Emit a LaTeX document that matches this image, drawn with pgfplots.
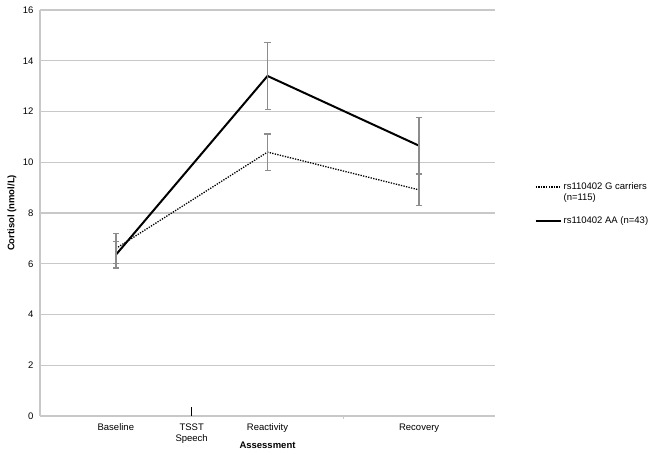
\documentclass[border=0pt]{standalone}
\usepackage{fontspec}
\setmainfont{Liberation Sans}
\usepackage{pgfplots}
\pgfplotsset{compat=1.18}

\definecolor{gridgray}{RGB}{200,200,200}
\definecolor{errgray}{RGB}{140,140,140}

\begin{document}
\begin{tikzpicture}[x=1pt,y=1pt]
\useasboundingbox (0,0) rectangle (654,455);
\begin{axis}[
  at={(40pt,39pt)}, anchor=south west,
  scale only axis,
  width=455pt, height=406pt,
  font=\fontsize{9.5}{11}\selectfont,
  /pgf/number format/assume math mode=true,
  xmin=-0.5, xmax=2.5,
  ymin=0, ymax=16,
  ytick={0,2,...,16},
  xtick={0,1,2},
  xticklabels={Baseline,Reactivity,Recovery},
  extra x ticks={0.5},
  extra x tick labels={TSST\\Speech},
  extra x tick style={tick align=inside, major tick length=9pt,
    tick style={black, line width=0.9pt}, grid=none},
  minor xtick={1.5},
  minor tick length=3pt,
  major tick length=0pt,
  xticklabel style={align=center, yshift=-4pt},
  yticklabel style={xshift=-3pt},
  ymajorgrids,
  grid style={gridgray, line width=1.3pt},
  axis x line*=bottom, axis y line*=left,
  axis line style={gridgray, line width=1.3pt, -},
  minor tick style={gridgray, line width=0.8pt},
  tick align=outside,
  xlabel={\bfseries Assessment},
  xlabel style={at={(axis description cs:0.5,0)}, anchor=center, yshift=-29pt},
  ylabel={\bfseries Cortisol (nmol/L)},
  ylabel style={at={(axis description cs:-0.0615,0.5)}, anchor=center},
  legend style={at={(1.08,0.585)}, anchor=north west, draw=none, fill=none,
    font=\fontsize{9.5}{11}\selectfont, row sep=22pt,
    /tikz/every even column/.append style={column sep=3pt}},
  legend cell align=left,
  legend image code/.code={\draw[#1] (0pt,0pt) -- (25pt,0pt);},
]
% rs110402 G carriers (n=115)
\addplot[black, line width=1.3pt, dash pattern=on 1.3pt off 1.3pt,
  error bars/.cd, y dir=both, y explicit,
  error bar style={errgray, line width=1.4pt, solid},
  error mark options={rotate=90, mark size=3pt, errgray, line width=1.4pt, solid}]
  coordinates {
  (0,6.6) +- (0,0.6)
  (1,10.4) +- (0,0.72)
  (2,8.91) +- (0,0.61)
};
\addlegendentry{\parbox[t]{90pt}{rs110402 G carriers\\(n=115)}}
% rs110402 AA (n=43)
\addplot[black, line width=2pt,
  error bars/.cd, y dir=both, y explicit,
  error bar style={errgray, line width=1.4pt},
  error mark options={rotate=90, mark size=3pt, errgray, line width=1.4pt}]
  coordinates {
  (0,6.35) +- (0,0.52)
  (1,13.4) +- (0,1.33)
  (2,10.65) +- (0,1.11)
};
\addlegendentry{rs110402 AA (n=43)}
\end{axis}
\end{tikzpicture}
\end{document}
